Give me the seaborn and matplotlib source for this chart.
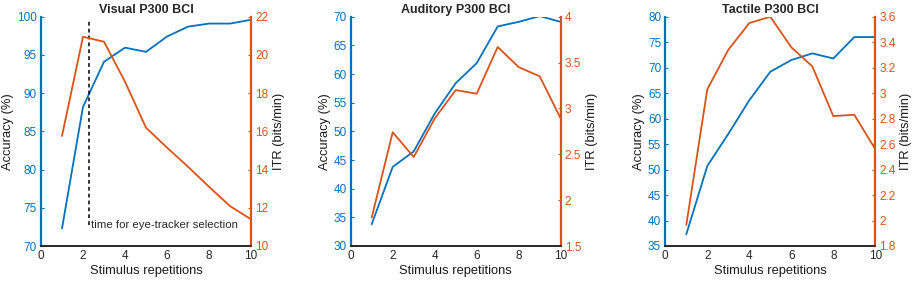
import matplotlib
matplotlib.use("Agg")
import matplotlib.pyplot as plt
import seaborn as sns
import pandas as pd

sns.set_style("white")
plt.rcParams['font.family'] = ['Liberation Sans', 'DejaVu Sans']

reps = [1, 2, 3, 4, 5, 6, 7, 8, 9, 10]
titles = ["Visual P300 BCI", "Auditory P300 BCI", "Tactile P300 BCI"]
acc_visual = [72.3, 88.2, 94.1, 95.95, 95.4, 97.4, 98.7, 99.1, 99.1, 99.6]
itr_visual = [15.76, 20.95, 20.69, 18.6, 16.19, 15.15, 14.15, 13.1, 12.09, 11.4]
acc_auditory = [33.8, 43.8, 46.5, 53.1, 58.4, 61.9, 68.3, 69.1, 70.1, 69.1]
itr_auditory = [1.81, 2.74, 2.47, 2.89, 3.2, 3.16, 3.67, 3.45, 3.35, 2.89]
acc_tactile = [37.3, 50.7, 57.0, 63.6, 69.2, 71.5, 72.8, 71.8, 76.0, 76.0]
itr_tactile = [1.965, 3.03, 3.34, 3.55, 3.6, 3.36, 3.21, 2.82, 2.83, 2.56]
eye_tracker_x = 2.3
eye_tracker_label = "time for eye-tracker selection"

acc_lims = [(70, 100), (30, 70), (35, 80)]
acc_ticks = [list(range(70, 101, 5)), list(range(30, 71, 5)), list(range(35, 81, 5))]
itr_lims = [(10, 22), (1.5, 4), (1.8, 3.6)]
itr_ticks = [[10, 12, 14, 16, 18, 20, 22], [1.5, 2, 2.5, 3, 3.5, 4],
             [1.8, 2.0, 2.2, 2.4, 2.6, 2.8, 3.0, 3.2, 3.4, 3.6]]
itr_ticklabels = [["10", "12", "14", "16", "18", "20", "22"],
                  ["1.5", "2", "2.5", "3", "3.5", "4"],
                  ["1.8", "2", "2.2", "2.4", "2.6", "2.8", "3", "3.2", "3.4", "3.6"]]

BLUE = "#0072BD"
RED = "#D95319"

fig = plt.figure(figsize=(9.16, 2.83), dpi=100)
lefts = [41 / 916, 350.7 / 916, 665.3 / 916]
W = 210 / 916
B = 37 / 283
H = 229.3 / 283

accs = [acc_visual, acc_auditory, acc_tactile]
itrs = [itr_visual, itr_auditory, itr_tactile]

for i in range(3):
    ax = fig.add_axes([lefts[i], B, W, H])
    df = pd.DataFrame({"rep": reps, "acc": accs[i], "itr": itrs[i]})
    sns.lineplot(data=df, x="rep", y="acc", ax=ax, color=BLUE, linewidth=1.3)
    ax2 = ax.twinx()
    sns.lineplot(data=df, x="rep", y="itr", ax=ax2, color=RED, linewidth=1.3)

    ax.set_xlim(0, 10)
    ax.set_xticks([0, 2, 4, 6, 8, 10])
    ax.set_ylim(*acc_lims[i])
    ax.set_yticks(acc_ticks[i])
    ax2.set_ylim(*itr_lims[i])
    ax2.set_yticks(itr_ticks[i])
    ax2.set_yticklabels(itr_ticklabels[i])

    ax.set_xlabel("Stimulus repetitions", fontsize=9.3, labelpad=2, color="#1a1a1a")
    ax.set_ylabel("Accuracy (%)", fontsize=9.3, labelpad=2, color="#1a1a1a")
    ax2.set_ylabel("ITR (bits/min)", fontsize=9.3, labelpad=3, color="#1a1a1a")
    ax.set_title(titles[i], fontsize=9, fontweight="bold", pad=3)

    for a in (ax, ax2):
        a.spines["top"].set_visible(False)
        a.spines["bottom"].set_color("#262626")
        a.spines["bottom"].set_linewidth(1.2)
    ax.spines["right"].set_visible(False)
    ax.spines["left"].set_color(BLUE)
    ax.spines["left"].set_linewidth(1.6)
    ax2.spines["left"].set_visible(False)
    ax2.spines["right"].set_color(RED)
    ax2.spines["right"].set_linewidth(1.6)

    ax.tick_params(axis="x", direction="in", length=2.5, labelsize=8.5, colors="#262626", pad=3)
    ax.tick_params(axis="y", direction="in", length=2.5, labelsize=8.5, colors=BLUE, pad=3)
    ax2.tick_params(axis="y", direction="in", length=2.5, labelsize=8.5, colors=RED, pad=3)
    ax2.tick_params(axis="x", bottom=False)

    if i == 0:
        ax.axvline(eye_tracker_x, ymin=(72.7 - 70) / 30, ymax=(99.6 - 70) / 30,
                   color="black", linestyle=(0, (2.5, 2)), linewidth=1.1)
        ax.text(eye_tracker_x + 0.07, 72.7, eye_tracker_label, fontsize=8.2,
                ha="left", va="center", color="#262626")

fig.savefig("out.png", dpi=100)
